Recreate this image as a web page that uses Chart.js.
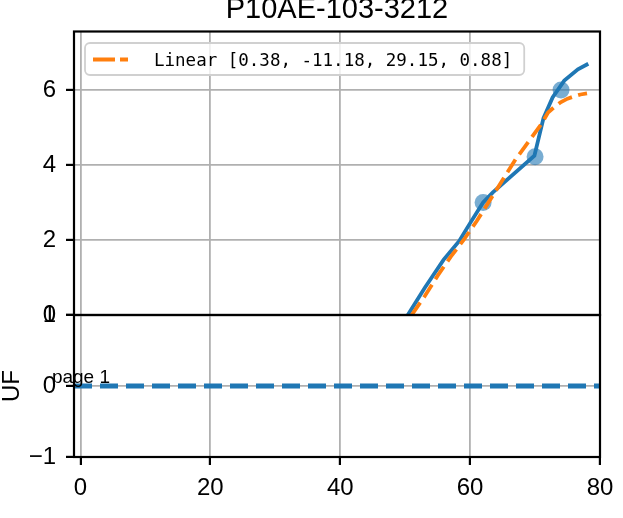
<!DOCTYPE html>
<html>
<head>
<meta charset="utf-8">
<script src="https://cdn.jsdelivr.net/npm/chart.js@4.4.0/dist/chart.umd.min.js"></script>
<style>
  html, body { margin: 0; padding: 0; background: #fff; }
  #wrap { position: relative; width: 623px; height: 518px; overflow: hidden; }
  canvas { position: absolute; left: 0; top: 0; }
</style>
</head>
<body>
<div id="wrap">
  <canvas id="topChart" width="623" height="518"></canvas>
  <canvas id="bottomChart" width="623" height="518"></canvas>
</div>
<script>
// labels
const chartTitle = 'P10AE-103-3212';
const fitLabel = 'Linear [0.38, -11.18, 29.15, 0.88]';
const bottomAxisLabel = 'UF';
const pageNote = 'page 1';

// ticks
const xTicks = [0, 20, 40, 60, 80];
const topYTicks = [0, 2, 4, 6];
const bottomYTicks = [-1, 0, 1];

// measured curve (blue)
const measuredX = [50.4, 53.0, 55.9, 58.3, 60.0, 62.0, 63.5, 69.9, 71.3, 72.7, 74.5, 76.6, 78.2];
const measuredY = [0.0, 0.72, 1.47, 1.97, 2.45, 3.0, 3.27, 4.25, 5.25, 5.8, 6.25, 6.55, 6.7];

// fitted curve (orange dashed)
const fitX = [51, 53, 55, 57, 59, 61, 63, 65, 67, 69, 71, 72, 73, 74, 75, 76, 77, 78];
const fitY = [0.0, 0.5, 1.05, 1.55, 2.0, 2.5, 3.05, 3.6, 4.15, 4.62, 5.1, 5.4, 5.55, 5.68, 5.77, 5.83, 5.88, 5.91];

// highlighted samples
const sampleX = [62, 70, 74];
const sampleY = [3.0, 4.22, 6.0];

// lower panel reference line
const refX = [-1, 80];
const refY = [0, 0];

const FONT = "'Liberation Sans', 'DejaVu Sans', sans-serif";
const BLUE = '#1f77b4';
const ORANGE = '#ff7f0e';
const GRID = '#b0b0b0';

Chart.defaults.font.family = FONT;
Chart.defaults.font.size = 24;
Chart.defaults.color = '#000';

const toPoints = (xs, ys) => xs.map((x, i) => ({ x: x, y: ys[i] }));
const fixTicks = (list) => (scale) => { scale.ticks = list.map(v => ({ value: v })); };
const fmt = (v) => (v < 0 ? '\u2212' + Math.abs(v) : String(v));

const spines = {
  id: 'spines',
  afterDraw(chart) {
    const { ctx, chartArea: a } = chart;
    ctx.save();
    ctx.strokeStyle = '#000';
    ctx.lineWidth = 2.2;
    ctx.strokeRect(a.left, a.top, a.right - a.left, a.bottom - a.top);
    ctx.restore();
  }
};

const topDecor = {
  id: 'topDecor',
  afterDraw(chart) {
    const { ctx, chartArea: a } = chart;
    ctx.save();
    // title
    ctx.font = '29px ' + FONT;
    ctx.fillStyle = '#000';
    ctx.textAlign = 'center';
    ctx.textBaseline = 'alphabetic';
    ctx.fillText(chartTitle, (a.left + a.right) / 2, 18);

    // legend
    ctx.font = '17.5px "DejaVu Sans Mono", monospace';
    const tw = ctx.measureText(fitLabel).width;
    const bx = a.left + 11, by = a.top + 11.5;
    const bw = 69 + tw + 12, bh = 32;
    ctx.beginPath();
    ctx.roundRect(bx, by, bw, bh, 5);
    ctx.fillStyle = 'rgba(255,255,255,0.8)';
    ctx.fill();
    ctx.strokeStyle = '#d0d0d0';
    ctx.lineWidth = 1.8;
    ctx.stroke();

    ctx.beginPath();
    ctx.setLineDash([22, 5]);
    ctx.strokeStyle = ORANGE;
    ctx.lineWidth = 3.8;
    ctx.moveTo(bx + 8, by + 16.5);
    ctx.lineTo(bx + 43, by + 16.5);
    ctx.stroke();
    ctx.setLineDash([]);

    ctx.fillStyle = '#000';
    ctx.textAlign = 'left';
    ctx.fillText(fitLabel, bx + 69, by + 23);
    ctx.restore();
  }
};

const bottomDecor = {
  id: 'bottomDecor',
  afterDraw(chart) {
    const { ctx } = chart;
    const xs = chart.scales.x, ys = chart.scales.y;
    ctx.save();
    ctx.font = '19px ' + FONT;
    ctx.fillStyle = '#000';
    ctx.textAlign = 'left';
    ctx.textBaseline = 'alphabetic';
    ctx.fillText(pageNote, xs.getPixelForValue(-4.4), ys.getPixelForValue(0) - 3);
    ctx.restore();
  }
};

new Chart(document.getElementById('topChart'), {
  type: 'line',
  data: {
    datasets: [
      {
        label: fitLabel,
        data: toPoints(fitX, fitY),
        borderColor: ORANGE,
        borderWidth: 3.8,
        borderDash: [15, 6.5],
        pointRadius: 0,
        tension: 0,
        fill: false
      },
      {
        label: 'measured',
        data: toPoints(measuredX, measuredY),
        borderColor: BLUE,
        borderWidth: 3.8,
        pointRadius: 0,
        tension: 0,
        fill: false
      },
      {
        type: 'scatter',
        label: 'samples',
        data: toPoints(sampleX, sampleY),
        backgroundColor: 'rgba(31,119,180,0.6)',
        borderWidth: 0,
        pointRadius: 8.5
      }
    ]
  },
  options: {
    responsive: false,
    animation: false,
    devicePixelRatio: 1,
    layout: { padding: { left: 0, top: 31.5, right: 23, bottom: 0 } },
    plugins: { legend: { display: false }, tooltip: { enabled: false }, title: { display: false } },
    scales: {
      x: {
        type: 'linear',
        min: -1,
        max: 80,
        afterBuildTicks: fixTicks(xTicks),
        ticks: { display: false },
        grid: { color: GRID, lineWidth: 1.8, drawTicks: false },
        border: { display: false },
        afterFit: (s) => { s.height = 203; }
      },
      y: {
        type: 'linear',
        min: 0,
        max: 7.56,
        afterBuildTicks: fixTicks(topYTicks),
        ticks: { padding: 10, callback: fmt },
        grid: { color: GRID, lineWidth: 1.8, tickColor: '#000', tickLength: 8, tickWidth: 2.2 },
        border: { display: false },
        afterFit: (s) => { s.width = 74; }
      }
    }
  },
  plugins: [spines, topDecor]
});

new Chart(document.getElementById('bottomChart'), {
  type: 'line',
  data: {
    datasets: [
      {
        label: 'reference',
        data: toPoints(refX, refY),
        borderColor: BLUE,
        borderWidth: 4.8,
        borderDash: [18, 8],
        pointRadius: 0,
        fill: false
      }
    ]
  },
  options: {
    responsive: false,
    animation: false,
    devicePixelRatio: 1,
    layout: { padding: { left: 0, top: 315, right: 23, bottom: 0 } },
    plugins: { legend: { display: false }, tooltip: { enabled: false } },
    scales: {
      x: {
        type: 'linear',
        min: -1,
        max: 80,
        afterBuildTicks: fixTicks(xTicks),
        ticks: { padding: 9, maxRotation: 0, callback: fmt },
        grid: { color: GRID, lineWidth: 1.8, tickColor: '#000', tickLength: 8, tickWidth: 2.2 },
        border: { display: false },
        afterFit: (s) => { s.height = 61; }
      },
      y: {
        type: 'linear',
        min: -1,
        max: 1,
        afterBuildTicks: fixTicks(bottomYTicks),
        ticks: { padding: 10, callback: fmt },
        title: { display: true, text: bottomAxisLabel, padding: 0, font: { size: 24, lineHeight: 1 } },
        grid: { color: GRID, lineWidth: 1.8, tickColor: '#000', tickLength: 8, tickWidth: 2.2 },
        border: { display: false },
        afterFit: (s) => { s.width = 74; }
      }
    }
  },
  plugins: [spines, bottomDecor]
});
</script>
</body>
</html>
